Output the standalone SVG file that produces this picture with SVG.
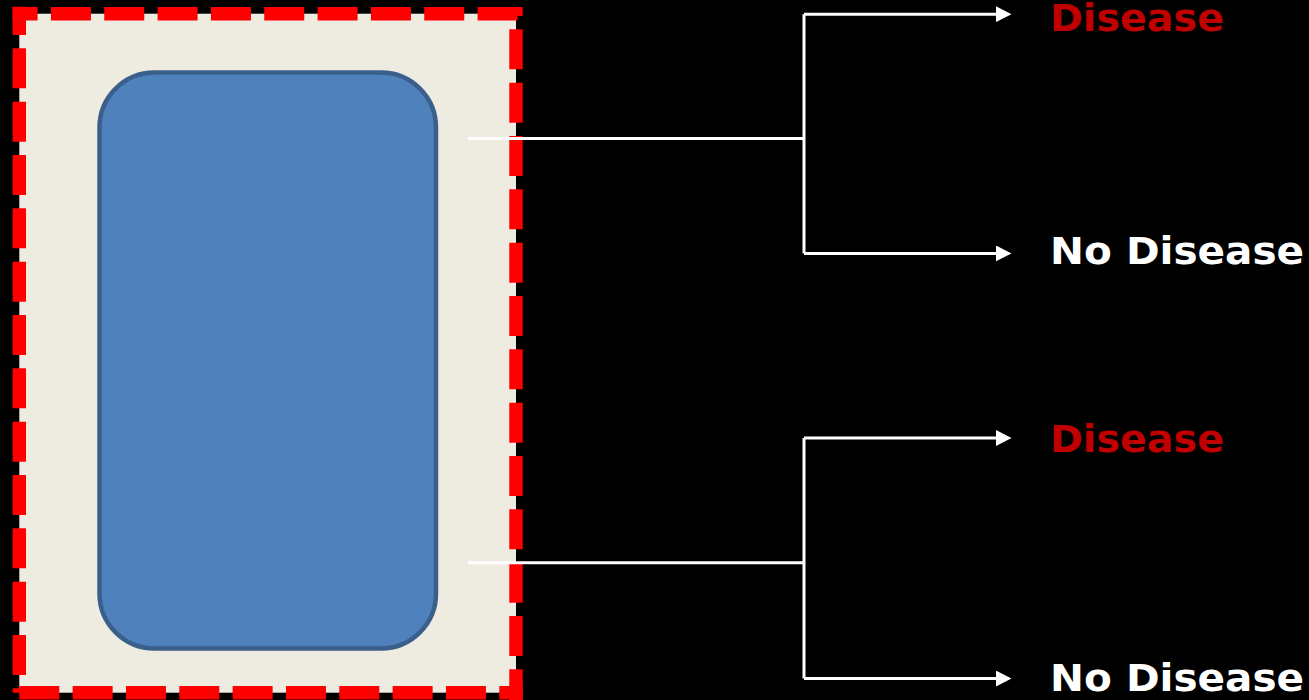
<svg xmlns="http://www.w3.org/2000/svg" width="1309" height="700" viewBox="0 0 1309 700">
  <style>
    .border { stroke: #FF0000; stroke-width: 13.4; fill: none; stroke-dasharray: 40 13.333; stroke-linecap: butt; }
    .conn { stroke: #FFFFFF; stroke-width: 3; fill: none; }
    .lbl { font-family: "DejaVu Sans", "Liberation Sans", sans-serif; font-weight: bold; font-size: 37px; }
    .red { fill: #C00000; }
    .white { fill: #FFFFFF; }
  </style>
  <defs>
    <marker id="arr" markerUnits="userSpaceOnUse" markerWidth="16" markerHeight="16" refX="0" refY="7.9" orient="auto">
      <path d="M0,0 L15.5,7.9 L0,15.8 Z" fill="#FFFFFF"/>
    </marker>
  </defs>
  <rect x="0" y="0" width="1309" height="700" fill="#000000"/>

  <g id="frame">
    <rect x="19.3" y="13.7" width="496.7" height="679" fill="#EEECE1"/>
    <line class="border" x1="12.6" y1="13.7" x2="522.7" y2="13.7" stroke-dashoffset="15"/>
    <line class="border" x1="516" y1="7" x2="516" y2="700" stroke-dashoffset="31"/>
    <line class="border" x1="19.3" y1="692.7" x2="522.7" y2="692.7" stroke-dashoffset="0"/>
    <line class="border" x1="19.3" y1="6.7" x2="19.3" y2="692.7" stroke-dashoffset="11.7"/>
  </g>

  <g id="box">
    <rect x="99.5" y="72.5" width="336.5" height="576" rx="55" ry="55" fill="#4F81BD" stroke="#3A5F8B" stroke-width="4.5"/>
  </g>

  <g id="connectors">
    <path class="conn" d="M468,138.5 H804"/>
    <path class="conn" d="M804,14.2 V253.4"/>
    <path class="conn" d="M804,14.2 H996" marker-end="url(#arr)"/>
    <path class="conn" d="M804,253.4 H996" marker-end="url(#arr)"/>
    <path class="conn" d="M468,562.7 H804"/>
    <path class="conn" d="M804,438 V678.5"/>
    <path class="conn" d="M804,438 H996" marker-end="url(#arr)"/>
    <path class="conn" d="M804,678.5 H996" marker-end="url(#arr)"/>
  </g>

  <g id="disease1"><text class="lbl red" x="1050" y="31" textLength="174" lengthAdjust="spacingAndGlyphs">Disease</text></g>
  <g id="nodisease1"><text class="lbl white" x="1050" y="264" textLength="254" lengthAdjust="spacingAndGlyphs">No Disease</text></g>
  <g id="disease2"><text class="lbl red" x="1050" y="452" textLength="174" lengthAdjust="spacingAndGlyphs">Disease</text></g>
  <g id="nodisease2"><text class="lbl white" x="1050" y="691" textLength="254" lengthAdjust="spacingAndGlyphs">No Disease</text></g>
</svg>
